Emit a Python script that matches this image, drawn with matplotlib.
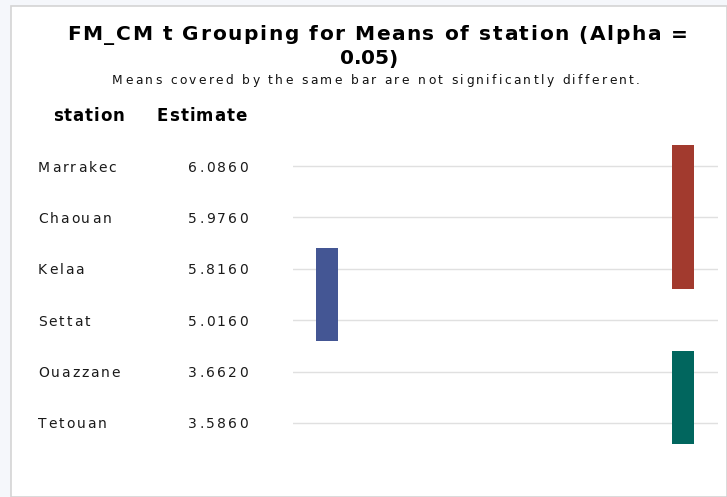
import matplotlib.pyplot as plt
from matplotlib import transforms
from matplotlib.patches import Rectangle

# data
stations = ['Marrakec', 'Chaouan', 'Kelaa', 'Settat', 'Ouazzane', 'Tetouan']
estimates = [6.0860, 5.9760, 5.8160, 5.0160, 3.6620, 3.5860]
# grouping bars: column, first row, last row
group_cols = [1, 0, 1]
group_start = [0, 2, 4]
group_end = [2, 3, 5]
group_colors = ['#a23a2e', '#445694', '#01665e']

plt.rcParams['font.family'] = ['DejaVu Sans']

W, H = 727, 497
fig = plt.figure(figsize=(W / 100, H / 100), dpi=100)
fig.patch.set_facecolor('#f5f7fb')
renderer = fig.canvas.get_renderer()


def spaced_text(x, y, s, track=None, width=None, ha='left', trans=None, **kw):
    # letter-spaced text, x in pixels; each character is a real text object
    probe = fig.text(0, 0, 'x', **kw)
    prop = probe.get_fontproperties()
    probe.remove()
    base = renderer.get_text_width_height_descent('||', prop, ismath=False)[0]
    widths = [renderer.get_text_width_height_descent('|' + ch + '|', prop, ismath=False)[0] - base
              for ch in s]
    if width is not None:
        track = (width - sum(widths)) / (len(s) - 1)
    total = sum(widths) + track * (len(s) - 1)
    if ha == 'center':
        x0 = x - total / 2
    elif ha == 'right':
        x0 = x - total
    else:
        x0 = x
    if trans is None:
        trans = fig.transFigure
        y = 1 - y / H
    for ch, w in zip(s, widths):
        if ch != ' ':
            fig.text(x0 / W, y, ch, transform=trans, ha='left', va='center_baseline', **kw)
        x0 += w + track


# white panel with a thin gray border at top/left
panel = Rectangle((11 / W, 0), 1 - 11 / W, 1 - 6 / H, transform=fig.transFigure,
                  facecolor='white', edgecolor='#d4d4d4', linewidth=1.2, zorder=-1)
fig.patches.append(panel)

# axes for the grouping bars: rows 0..5 at y=166..423 px
row_px = 51.4
y_top, y_bot = -0.8, 5.8
ax_top_px = 166 + y_top * row_px
ax_h_px = (y_bot - y_top) * row_px
ax_left_px, ax_right_px = 293, 718
ax = fig.add_axes([ax_left_px / W, 1 - (ax_top_px + ax_h_px) / H,
                   (ax_right_px - ax_left_px) / W, ax_h_px / H])
ax.set_facecolor('none')
ax.set_ylim(y_bot, y_top)
ax.set_xlim(-0.0955, 1.098)
ax.axis('off')

for i in range(len(stations)):
    ax.axhline(i, color='#e0e0e0', linewidth=1.0, zorder=1)

bar_w = 0.062
for col, s, e, c in zip(group_cols, group_start, group_end, group_colors):
    ax.add_patch(Rectangle((col - bar_w / 2, s - 0.4), bar_w, (e - s) + 0.8,
                           facecolor=c, edgecolor='none', zorder=3))

# row labels and estimates
trans = transforms.blended_transform_factory(fig.transFigure, ax.transData)
for i, (st, est) in enumerate(zip(stations, estimates)):
    spaced_text(38, i, st, track=1.9, ha='left', trans=trans,
                fontsize=10, color='#1a1a1a')
    spaced_text(248, i, f'{est:.4f}', width=60, ha='right', trans=trans,
                fontsize=10, color='#1a1a1a')

# headers
spaced_text(53, 114, 'station', width=71, fontsize=12, fontweight='bold')
spaced_text(157, 114, 'Estimate', width=90, fontsize=12, fontweight='bold')

# titles
spaced_text(377.5, 33, 'FM_CM t Grouping for Means of station (Alpha =', width=621,
            ha='center', fontsize=14.5, fontweight='bold')
spaced_text(369, 57, '0.05)', width=58, ha='center', fontsize=14.5, fontweight='bold')
spaced_text(376, 79, 'Means covered by the same bar are not significantly different.',
            width=528, ha='center', fontsize=8.8, color='#111111')

fig.savefig('out.png', dpi=100, facecolor=fig.get_facecolor())
